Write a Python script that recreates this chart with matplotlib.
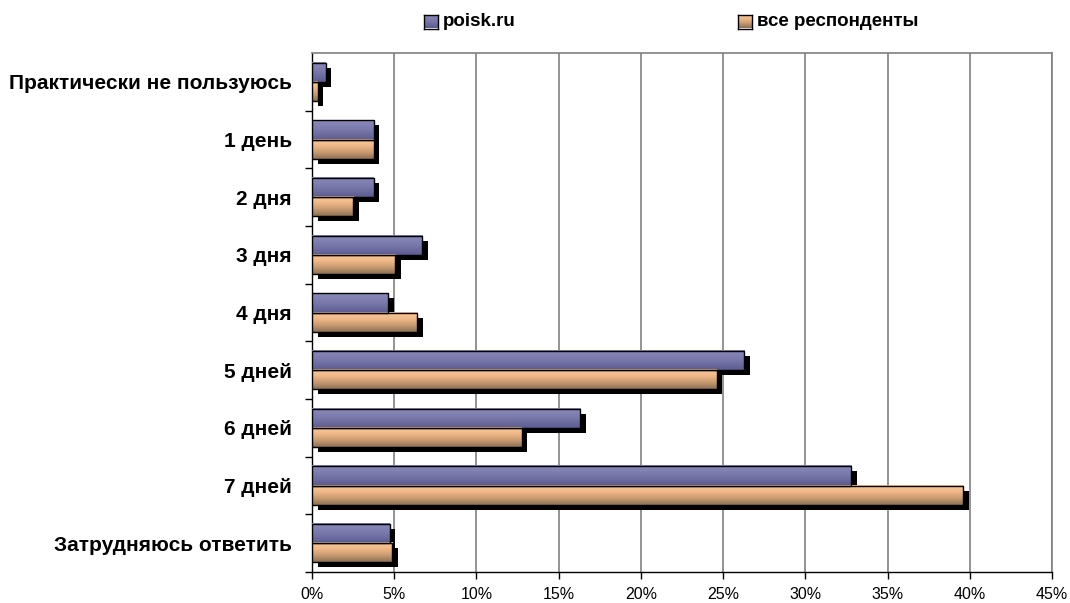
import numpy as np
import matplotlib
matplotlib.use("Agg")
import matplotlib.pyplot as plt
from matplotlib.colors import LinearSegmentedColormap
from matplotlib.patches import Rectangle
from matplotlib.transforms import ScaledTranslation

plt.rcParams['font.family'] = ['Liberation Sans', 'DejaVu Sans']

# Данные
categories = ["Практически не пользуюсь", "1 день", "2 дня", "3 дня", "4 дня",
              "5 дней", "6 дней", "7 дней", "Затрудняюсь ответить"]
poisk = [0.85, 3.77, 3.77, 6.7, 4.64, 26.3, 16.3, 32.8, 4.74]
vse = [0.35, 3.77, 2.5, 5.07, 6.41, 24.6, 12.75, 39.6, 4.89]
series_names = ["poisk.ru", "все респонденты"]
x_ticks = list(range(0, 50, 5))

# Градиенты
cm_purple = LinearSegmentedColormap.from_list("p", ["#8A8ABB", "#7878AA", "#5C5C92"])
cm_orange = LinearSegmentedColormap.from_list("o", ["#FBCB9C", "#F0B888", "#C89A70", "#8C7055"])
grad = np.linspace(0, 1, 64).reshape(-1, 1)

fig = plt.figure(figsize=(10.7, 6.03), dpi=100)
ax = fig.add_axes([312 / 1070, 1 - 572 / 603, 740 / 1070, 519 / 603])

n = len(categories)
h = 1 / 3
shadow = ax.transData + ScaledTranslation(5.5 / 100, -5 / 100, fig.dpi_scale_trans)

for i in range(n):
    yc = n - 1 - i
    bars = [(poisk[i], yc + h, cm_purple), (vse[i], yc, cm_orange)]
    for v, ytop, cm in bars:
        ax.add_patch(Rectangle((0, ytop - h), v, h, facecolor="black",
                               edgecolor="none", transform=shadow, zorder=2))
    for v, ytop, cm in bars:
        ax.imshow(grad, cmap=cm, extent=(0, v, ytop - h, ytop), origin="upper",
                  aspect="auto", zorder=3, interpolation="bilinear")
        ax.add_patch(Rectangle((0, ytop - h), v, h, facecolor="none",
                               edgecolor="black", linewidth=1.0, zorder=4))

ax.set_xlim(0, 45)
ax.set_ylim(-0.5, n - 0.5)
ax.set_xticks(x_ticks)
ax.set_xticklabels([f"{t}%" for t in x_ticks], fontsize=11.5)
ax.set_yticks(np.arange(n) - 0.5, minor=False)
ax.set_yticklabels([])
ax.set_yticks(np.arange(n), minor=True)
ax.set_yticklabels(categories[::-1], minor=True, fontsize=15, fontweight="bold")
ax.tick_params(axis="y", which="minor", length=0, pad=14.5)
ax.tick_params(axis="y", which="major", length=5, direction="out", width=1)
ax.tick_params(axis="x", length=5, direction="out", width=1, pad=6)

ax.grid(axis="x", color="#808080", linewidth=1.2, zorder=1)
ax.set_axisbelow(True)
for s in ["top", "right"]:
    ax.spines[s].set_color("#808080")
    ax.spines[s].set_linewidth(1.2)
ax.spines["left"].set_linewidth(1.0)
ax.spines["bottom"].set_linewidth(1.0)

# Легенда
leg_x = [424, 738]
for k, (name, cm) in enumerate(zip(series_names, [cm_purple, cm_orange])):
    lx = leg_x[k] / 1070
    ly = 1 - 21.5 / 603
    lax = fig.add_axes([lx, ly - 7 / 603, 14 / 1070, 14 / 603])
    lax.imshow(grad, cmap=cm, aspect="auto", extent=(0, 1, 0, 1))
    lax.set_xticks([])
    lax.set_yticks([])
    for sp in lax.spines.values():
        sp.set_linewidth(1.0)
    fig.text(lx + 19 / 1070, ly, name, fontsize=13.5, fontweight="bold",
             va="center", ha="left")

fig.savefig("out.png", dpi=100)
